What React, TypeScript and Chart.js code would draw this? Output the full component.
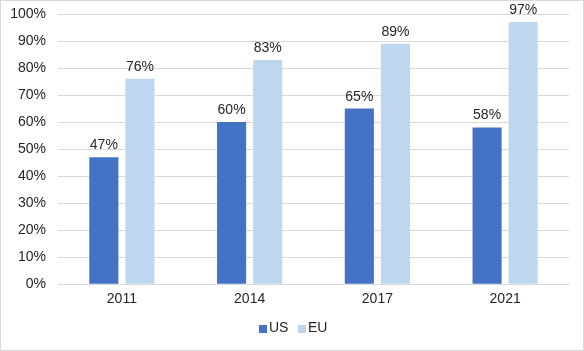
import React, { useEffect, useRef } from "react";
import { Chart, registerables } from "chart.js";

Chart.register(...registerables);

const categories = ["2011", "2014", "2017", "2021"];
const usValues = [47, 60, 65, 58];
const euValues = [76, 83, 89, 97];
const yTicks = [0, 10, 20, 30, 40, 50, 60, 70, 80, 90, 100];

const FONT = "'Liberation Sans', Arial, sans-serif";
const TEXT = "#262626";

const borderPlugin = {
  id: "outerBorder",
  beforeDraw(chart: any) {
    const { ctx, width, height } = chart;
    ctx.save();
    ctx.fillStyle = "#ffffff";
    ctx.fillRect(0, 0, width, height);
    ctx.strokeStyle = "#d9d9d9";
    ctx.lineWidth = 1;
    ctx.strokeRect(0.5, 0.5, width - 1, height - 1);
    ctx.restore();
  },
};

const labelPlugin = {
  id: "barLabels",
  afterDatasetsDraw(chart: any) {
    const { ctx } = chart;
    ctx.save();
    ctx.font = `14px ${FONT}`;
    ctx.fillStyle = TEXT;
    ctx.textAlign = "center";
    ctx.textBaseline = "alphabetic";
    chart.data.datasets.forEach((ds: any, i: number) => {
      const meta = chart.getDatasetMeta(i);
      meta.data.forEach((bar: any, j: number) => {
        ctx.fillText(`${ds.data[j]}%`, bar.x, bar.y - 8);
      });
    });
    ctx.restore();
  },
};

const legendPlugin = {
  id: "customLegend",
  afterDraw(chart: any) {
    const { ctx } = chart;
    ctx.save();
    ctx.font = `14px ${FONT}`;
    ctx.textBaseline = "middle";
    ctx.textAlign = "left";
    const items = chart.data.datasets.map((ds: any) => ({
      label: ds.label,
      color: ds.backgroundColor,
    }));
    const box = 8;
    const gapBoxText = 2;
    const gapItems = 10;
    const widths = items.map((it: any) => box + gapBoxText + ctx.measureText(it.label).width);
    const total = widths.reduce((a: number, b: number) => a + b, 0) + gapItems * (items.length - 1);
    let x = Math.round(chart.width / 2 - total / 2 + 1);
    const cy = 328.5;
    items.forEach((it: any, i: number) => {
      ctx.fillStyle = it.color;
      ctx.fillRect(x, cy - box / 2 + 0.5, box, box);
      ctx.fillStyle = TEXT;
      ctx.fillText(it.label, x + box + gapBoxText, cy);
      x += Math.round(widths[i] + gapItems);
    });
    ctx.restore();
  },
};

export default function App() {
  const ref = useRef<HTMLCanvasElement | null>(null);
  useEffect(() => {
    document.body.style.margin = "0";
    if (!ref.current) return;
    const chart = new Chart(ref.current, {
      type: "bar",
      data: {
        labels: categories,
        datasets: [
          {
            label: "US",
            data: usValues,
            backgroundColor: "#4472C4",
            categoryPercentage: 0.565,
            barPercentage: 0.806,
          },
          {
            label: "EU",
            data: euValues,
            backgroundColor: "#BDD7EE",
            categoryPercentage: 0.565,
            barPercentage: 0.806,
          },
        ],
      },
      options: {
        animation: false,
        responsive: false,
        maintainAspectRatio: false,
        layout: { padding: { top: 14, right: 15, bottom: 36, left: 0 } },
        plugins: {
          legend: { display: false },
          tooltip: { enabled: false },
        },
        scales: {
          x: {
            grid: { display: false, drawTicks: false },
            border: { display: true, color: "#d9d9d9" },
            ticks: { color: TEXT, font: { family: FONT, size: 14 }, padding: 7 },
          },
          y: {
            min: 0,
            max: 100,
            afterFit(scale: any) {
              scale.width = 58;
              scale.paddingTop = 0;
              scale.paddingBottom = 0;
            },
            afterBuildTicks(scale: any) {
              scale.ticks = yTicks.map((v) => ({ value: v }));
            },
            grid: { color: "#d9d9d9", drawTicks: false },
            border: { display: false },
            ticks: {
              color: TEXT,
              padding: 12,
              font: { family: FONT, size: 14 },
              callback: (v: any) => `${v}%`,
            },
          },
        },
      },
      plugins: [borderPlugin, labelPlugin, legendPlugin],
    });
    return () => chart.destroy();
  }, []);
  return <canvas ref={ref} width={584} height={351} style={{ display: "block" }} />;
}
